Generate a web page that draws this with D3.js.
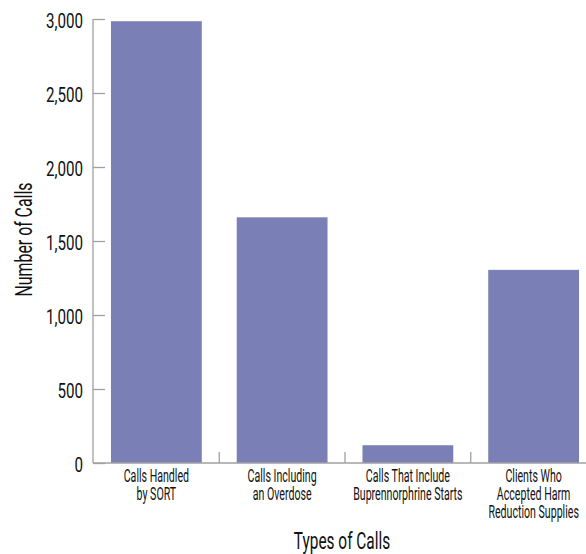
<!DOCTYPE html>
<html>
<head>
<meta charset="utf-8">
<script src="https://cdn.jsdelivr.net/npm/d3@7/dist/d3.min.js"></script>
<style>
  html, body { margin: 0; padding: 0; background: #fff; }
  svg { display: block; }
  text { font-family: Roboto, "Liberation Sans", sans-serif; fill: #111; }
</style>
</head>
<body>
<svg id="chart" width="586" height="554"></svg>
<script>
// ---- data ----
const categories = [
  ["Calls Handled", "by SORT"],
  ["Calls Including", "an Overdose"],
  ["Calls That Include", "Buprennorphrine Starts"],
  ["Clients Who", "Accepted Harm", "Reduction Supplies"]
];
const values = [2985, 1660, 120, 1305];
const yTicks = [0, 500, 1000, 1500, 2000, 2500, 3000];
const xTitle = "Types of Calls";
const yTitle = "Number of Calls";

// ---- layout ----
const W = 586, H = 554;
const mLeft = 93, mRight = 597, mTop = 19, mBottom = 463;
const barColor = "#7a7fb5";
const axisColor = "#a0a0a0";

const svg = d3.select("#chart");
const keys = categories.map((c, i) => i);

const x = d3.scaleBand().domain(keys).range([mLeft, mRight])
  .paddingInner(0.278).paddingOuter(0.143);
const y = d3.scaleLinear().domain([0, 3000]).range([mBottom, mTop]);

// bars
svg.append("g").selectAll("rect").data(values).join("rect")
  .attr("x", (d, i) => x(i))
  .attr("width", x.bandwidth())
  .attr("y", d => y(d))
  .attr("height", d => y(0) - y(d))
  .attr("fill", barColor);

// y axis
const yAxis = svg.append("g").attr("transform", `translate(${mLeft},0)`)
  .call(d3.axisRight(y).tickValues(yTicks).tickSize(12).tickFormat(() => ""));
yAxis.select(".domain").remove();
yAxis.selectAll(".tick line").attr("stroke", axisColor).attr("stroke-width", 1.3);
svg.append("line").attr("x1", mLeft).attr("x2", mLeft).attr("y1", y(3000)).attr("y2", y(0))
  .attr("stroke", axisColor).attr("stroke-width", 1.3);

// condensed text via horizontal scale
svg.append("g").selectAll("text").data(yTicks).join("text")
  .attr("transform", d => `translate(${mLeft - 10},${y(d)}) scale(0.74,1)`)
  .attr("dy", "0.45em")
  .attr("text-anchor", "end").attr("font-size", 20.5)
  .text(d => d3.format(",")(d));

// x axis baseline and boundary ticks
svg.append("line").attr("x1", mLeft).attr("x2", W).attr("y1", y(0)).attr("y2", y(0))
  .attr("stroke", axisColor).attr("stroke-width", 1.3);
const bounds = keys.slice(1).map(i => x(i) - x.step() * x.paddingInner() / 2);
svg.append("g").selectAll("line").data(bounds).join("line")
  .attr("x1", d => d).attr("x2", d => d)
  .attr("y1", y(0)).attr("y2", y(0) - 11)
  .attr("stroke", axisColor).attr("stroke-width", 1.3);

// category labels (one text per category, lines as tspans)
svg.append("g").selectAll("text").data(categories).join("text")
  .attr("transform", (d, i) => `translate(${x(i) + x.bandwidth() / 2},482) scale(0.59,1)`)
  .attr("text-anchor", "middle").attr("font-size", 18)
  .each(function(lines) {
    d3.select(this).selectAll("tspan").data(lines).join("tspan")
      .attr("x", 0).attr("y", (l, j) => j * 18).text(l => l);
  });

// axis titles
svg.append("text")
  .attr("transform", "translate(342,549) scale(0.67,1)")
  .attr("text-anchor", "middle").attr("font-size", 23).text(xTitle);

svg.append("text")
  .attr("transform", `translate(32,${(183 + 296) / 2}) rotate(-90) scale(0.69,1)`)
  .attr("text-anchor", "middle").attr("font-size", 23).text(yTitle);
</script>
</body>
</html>
